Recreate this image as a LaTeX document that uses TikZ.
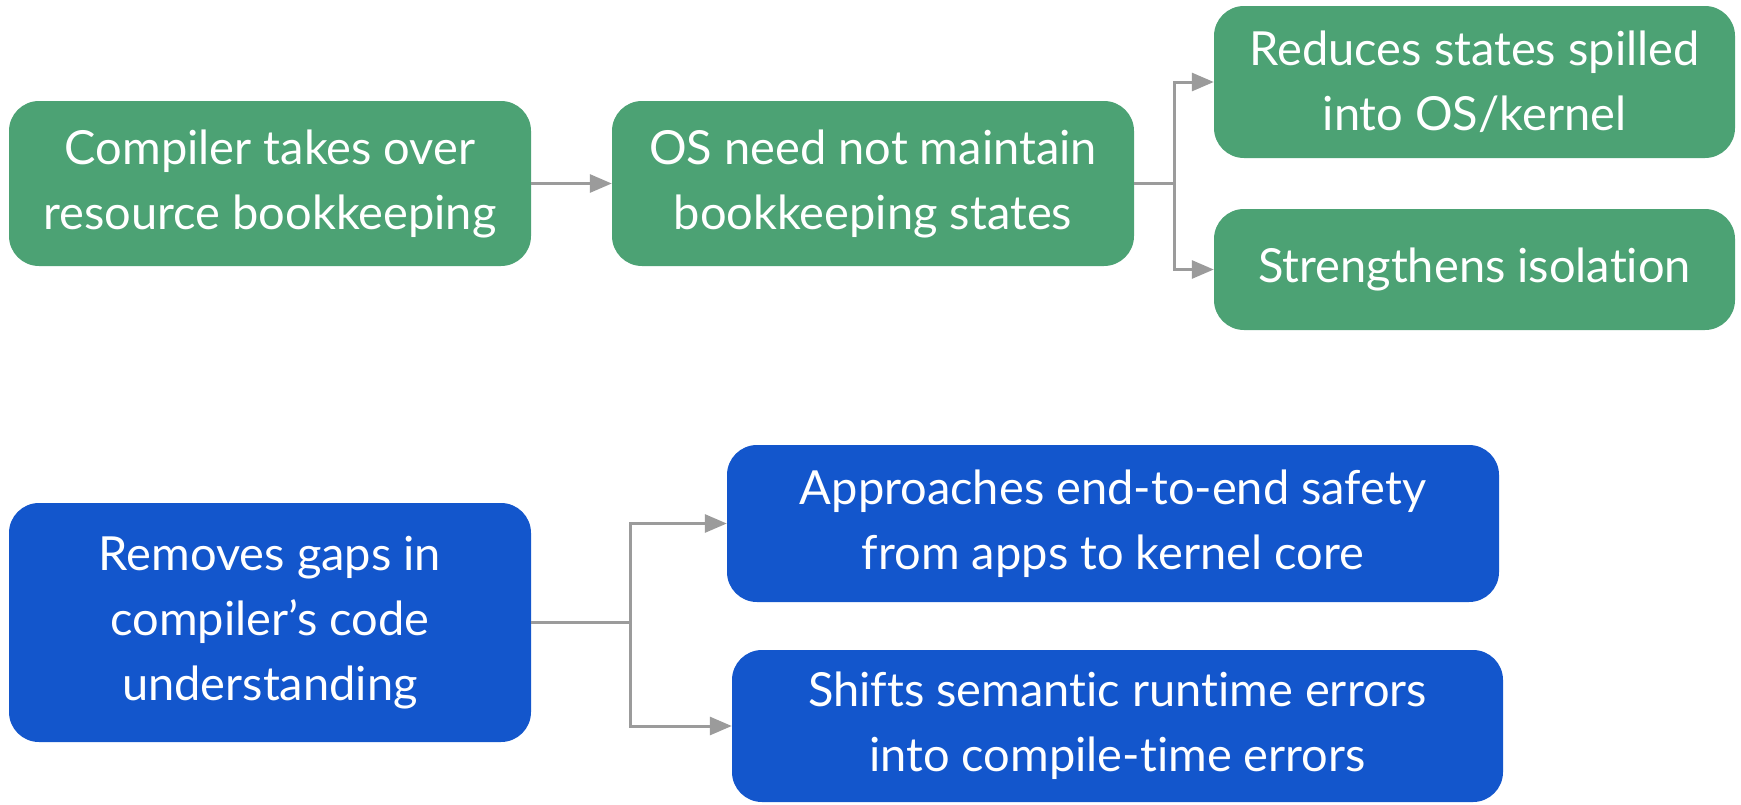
\documentclass[tikz,border=0pt]{standalone}
\usepackage{fontspec}
\setmainfont{Lato}[Ligatures={NoCommon}]
\usetikzlibrary{arrows.meta}
\definecolor{boxgreen}{RGB}{76,162,116}
\definecolor{boxblue}{RGB}{19,86,204}
\definecolor{linkgray}{RGB}{155,155,155}
\tikzset{
  card/.style={rounded corners=30pt, text=white, align=center,
    font=\fontsize{47}{65}\selectfont, inner sep=0pt},
  greencard/.style={card, fill=boxgreen},
  bluecard/.style={card, fill=boxblue},
  link/.style={draw=linkgray, line width=3pt},
  arrowlink/.style={link, -{Triangle[length=22pt,width=18pt]}},
}
\begin{document}
\begin{tikzpicture}[x=1pt,y=-1pt]
\useasboundingbox (0,0) rectangle (1741,804);
% top row
\node[greencard, minimum width=522pt, minimum height=165pt] (b1) at (270,183.5)
  {Compiler takes over\\resource bookkeeping};
\node[greencard, minimum width=522pt, minimum height=165pt] (b2) at (873,183.5)
  {OS need not maintain\\bookkeeping states};
\node[greencard, minimum width=521pt, minimum height=152pt] (b3) at (1474.5,82)
  {Reduces states spilled\\into OS/kernel};
\node[greencard, minimum width=521pt, minimum height=121pt] (b4) at (1474.5,269.5)
  {Strengthens isolation};
% bottom row
\node[bluecard, minimum width=522pt, minimum height=239pt] (b5) at (270,622.5)
  {Removes gaps in\\compiler’s code\\understanding};
\node[bluecard, minimum width=772pt, minimum height=157pt] (b6) at (1113,523.5)
  {Approaches end-to-end safety\\from apps to kernel core};
\node[bluecard, minimum width=771pt, minimum height=152pt] (b7) at (1117.5,726)
  {Shifts semantic runtime errors\\into compile-time errors};
% connectors
\draw[arrowlink] (b1.east) -- (b2.west);
\draw[link] (b2.east) -- ++(40,0) coordinate (s1);
\draw[arrowlink] (s1) |- (b3.west);
\draw[arrowlink] (s1) |- (b4.west);
\draw[link] (b5.east) -- ++(99,0) coordinate (s2);
\draw[arrowlink] (s2) |- (b6.west);
\draw[arrowlink] (s2) |- (b7.west);
\end{tikzpicture}
\end{document}
